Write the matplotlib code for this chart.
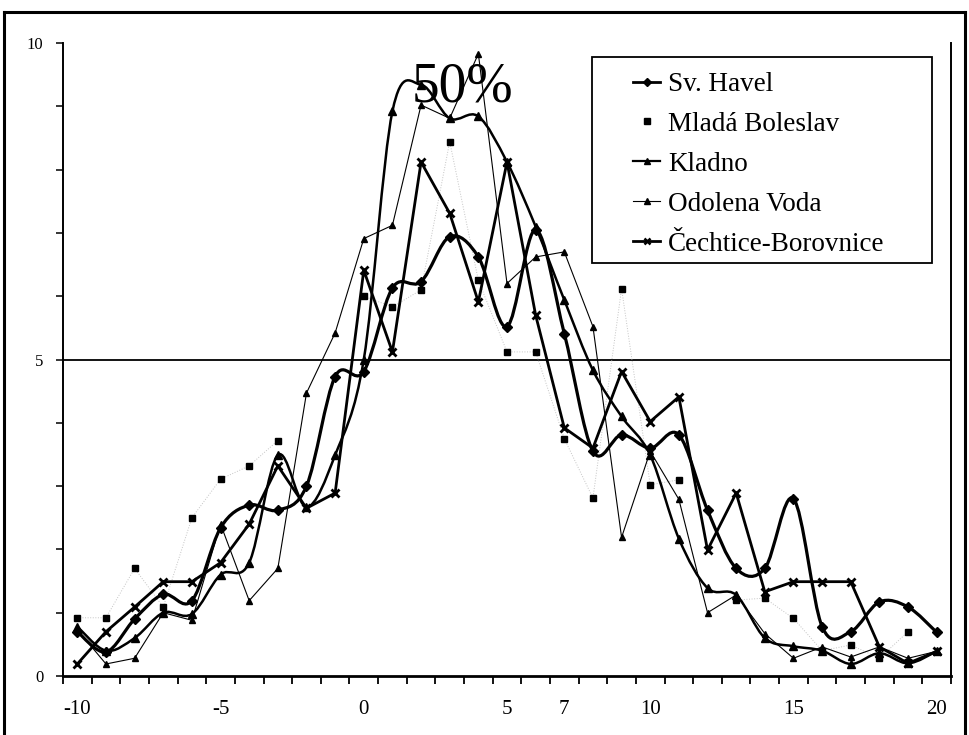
import numpy as np
import matplotlib
matplotlib.use('Agg')
import matplotlib.pyplot as plt
from matplotlib.path import Path
from matplotlib.patches import PathPatch, Rectangle
from matplotlib.lines import Line2D

plt.rcParams['font.family'] = ['Liberation Serif', 'DejaVu Serif']

# Datos (eje x: -10 .. 20)
x = np.arange(-10, 21)

sv_havel = [0.70, 0.38, 0.90, 1.29, 1.19, 2.34, 2.70, 2.62, 3.00, 4.73, 4.81,
            6.13, 6.23, 6.94, 6.62, 5.52, 7.05, 5.41, 3.55, 3.81, 3.60,
            3.81, 2.62, 1.70, 1.70, 2.80, 0.78, 0.70, 1.17, 1.09, 0.69]

mlada_boleslav = [0.92, 0.92, 1.70, 1.09, 2.50, 3.11, 3.32, 3.72, np.nan, np.nan, 6.00,
                  5.83, 6.10, 8.44, 6.25, 5.12, 5.12, 3.75, 2.81, 6.12, 3.02,
                  3.10, np.nan, 1.20, 1.23, 0.91, 0.40, 0.49, 0.28, 0.70, np.nan]

kladno = [0.78, 0.40, 0.60, 1.00, 0.98, 1.60, 1.79, 3.49, 2.67, 3.49, 5.00,
          8.92, 9.34, 8.81, 8.84, 8.12, 7.10, 5.94, 4.83, 4.10, 3.49,
          2.17, 1.39, 1.28, 0.60, 0.47, 0.40, 0.19, 0.36, 0.20, 0.39]

odolena_voda = [0.73, 0.19, 0.28, 1.00, 0.88, 2.40, 1.19, 1.70, 4.47, 5.42, 6.91,
                7.12, 9.02, 8.81, 9.83, 6.20, 6.62, 6.70, 5.52, 2.19, 3.55,
                2.79, 1.00, 1.28, 0.67, 0.28, 0.46, 0.30, 0.46, 0.28, 0.39]

cechtice = [0.19, 0.70, 1.09, 1.49, 1.49, 1.79, 2.40, 3.32, 2.65, 2.89, 6.41,
            5.12, 8.12, 7.31, 5.91, 8.12, 5.70, 3.92, 3.60, 4.81, 4.02,
            4.41, 1.99, 2.89, 1.33, 1.49, 1.49, 1.49, 0.46, 0.20, 0.39]

etiquetas_x = [-10, -5, 0, 5, 7, 10, 15, 20]


def curva_suave(xs, ys):
    # linea suavizada tipo Excel (Catmull-Rom pasada a Bezier cubica)
    pts = np.column_stack([xs, ys]).astype(float)
    n = len(pts)
    verts = [pts[0]]
    codes = [Path.MOVETO]
    for i in range(n - 1):
        p0 = pts[i - 1] if i > 0 else pts[i]
        p1 = pts[i]
        p2 = pts[i + 1]
        p3 = pts[i + 2] if i + 2 < n else pts[i + 1]
        verts += [p1 + (p2 - p0) / 6., p2 - (p3 - p1) / 6., p2]
        codes += [Path.CURVE4] * 3
    return Path(verts, codes)


fig = plt.figure(figsize=(9.69, 7.35), dpi=100)
ax = fig.add_axes([63 / 969., 59 / 735., 888 / 969., 633 / 735.])

# linea horizontal del 50%
ax.axhline(5, color='k', lw=1.3, zorder=1)

# Sv. Havel (suavizada, gruesa)
ax.add_patch(PathPatch(curva_suave(x, sv_havel), fill=False, edgecolor='k', lw=2.3, zorder=3))
ax.plot(x, sv_havel, ls='none', marker='D', ms=5, color='k', zorder=4)

# Mlada Boleslav (solo puntos, con una linea muy tenue)
ax.plot(x, mlada_boleslav, ls=':', lw=0.7, color='#c4c4c4', zorder=2)
ax.plot(x, mlada_boleslav, ls='none', marker='s', ms=4, color='k', zorder=4)

# Kladno (suavizada)
ax.add_patch(PathPatch(curva_suave(x, kladno), fill=False, edgecolor='k', lw=1.8, zorder=3))
ax.plot(x, kladno, ls='none', marker='^', ms=5.5, color='k', zorder=4)

# Odolena Voda (fina)
ax.plot(x, odolena_voda, ls='-', lw=0.8, marker='^', ms=4.5, color='k', zorder=3)

# Cechtice-Borovnice
ax.plot(x, cechtice, ls='-', lw=2.0, marker='x', ms=6, mew=2, color='k', zorder=3)

ax.text(3.46, 9.07, '50%', fontsize=40, ha='center', va='baseline', zorder=5)

# Ejes
ax.set_xlim(-10.5, 20.5)
ax.set_ylim(0, 10)
ax.set_xticks(etiquetas_x)
ax.set_xticklabels([str(v) for v in etiquetas_x], fontsize=15)
ax.set_xticks(np.arange(-10.5, 21, 1), minor=True)
ax.tick_params(axis='x', which='major', length=0, pad=17)
ax.tick_params(axis='x', which='minor', length=6, width=1.3, direction='out')

ax.set_yticks(np.arange(0, 11, 1))
ax.set_yticklabels([str(v) if v in (0, 5, 10) else '' for v in range(11)], fontsize=12)
ax.tick_params(axis='y', length=5, width=1.1, direction='out', pad=9)

ax.spines['top'].set_visible(False)
ax.spines['bottom'].set_linewidth(2)
ax.spines['left'].set_linewidth(1.4)
ax.spines['right'].set_linewidth(1.4)

# Leyenda (marco dibujado aparte)
handles = [
    Line2D([], [], color='k', lw=2.0, marker='D', ms=4),
    Line2D([], [], ls='none', marker='s', ms=4, color='k'),
    Line2D([], [], color='k', lw=1.6, marker='^', ms=5),
    Line2D([], [], color='k', lw=0.8, marker='^', ms=4),
    Line2D([], [], color='k', lw=2.0, marker='x', ms=5, mew=1.8),
]
nombres = ['Sv. Havel', 'Mladá Boleslav', 'Kladno', 'Odolena Voda', 'Čechtice-Borovnice']
fig.patches.append(Rectangle((592 / 969., 1 - 263 / 735.), 340 / 969., 206 / 735.,
                             transform=fig.transFigure, fill=True, facecolor='white',
                             edgecolor='k', lw=1.3, zorder=6))
leg = fig.legend(handles, nombres, loc='upper left', bbox_to_anchor=(633 / 969., 1 - 72 / 735.),
                 frameon=False, fontsize=19.5, handlelength=1.0, handletextpad=0.3,
                 labelspacing=0.55, borderpad=0, borderaxespad=0)
leg.set_zorder(7)

# Marco exterior de la figura
lw_marco = 2.2
fig.add_artist(Line2D([4 / 969., 4 / 969.], [0, 1 - 12 / 735.], transform=fig.transFigure, color='k', lw=lw_marco))
fig.add_artist(Line2D([4 / 969., 965 / 969.], [1 - 12 / 735., 1 - 12 / 735.], transform=fig.transFigure, color='k', lw=lw_marco))
fig.add_artist(Line2D([965 / 969., 965 / 969.], [0, 1 - 12 / 735.], transform=fig.transFigure, color='k', lw=lw_marco))

plt.savefig('out.png', dpi=100)
